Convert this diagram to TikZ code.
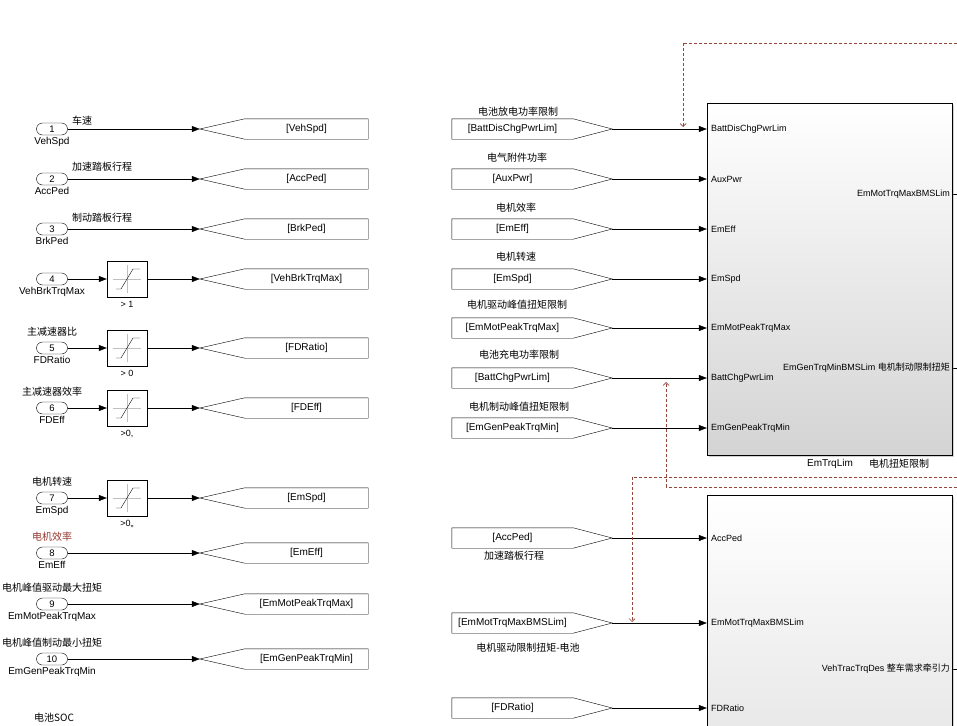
\documentclass[tikz,border=0pt]{standalone}
\usepackage{fontspec}
\setmainfont{Liberation Sans}
\newfontfamily\cjk{Noto Sans CJK SC}
\usepackage{tikz}
\usetikzlibrary{arrows.meta}
\usetikzlibrary{shapes.misc,shadows,positioning}
\pgfdeclarelayer{edgelayer}
\pgfdeclarelayer{nodelayer}
\pgfdeclarelayer{background}
\pgfsetlayers{background,edgelayer,nodelayer,main}
\definecolor{tracecol}{RGB}{150,70,60}
\definecolor{notecol}{RGB}{150,55,45}
\tikzstyle{none}=[inner sep=0mm]
\tikzstyle{lab}=[inner sep=0mm,font=\fontsize{9}{10}\selectfont]
\tikzstyle{portname}=[inner sep=0mm,font=\fontsize{10}{11}\selectfont]
\tikzstyle{zh}=[inner sep=0mm,font=\cjk\fontsize{10}{11}\selectfont]
\tikzstyle{inport}=[draw,rounded rectangle,minimum width=31pt,minimum height=12pt,inner sep=0pt,font=\fontsize{9.5}{10}\selectfont]
\tikzstyle{tag}=[inner sep=0pt,minimum height=20pt,font=\fontsize{10}{11}\selectfont]
\tikzstyle{sat}=[draw,fill=white,minimum width=40pt,minimum height=36pt,inner sep=0pt]
\tikzstyle{sub}=[draw,top color=white,bottom color=black!17,inner sep=0pt,
  drop shadow={shadow xshift=2pt,shadow yshift=-2pt,opacity=0.35}]
\tikzstyle{wire}=[-{Triangle[length=8pt,width=6pt]}]
\tikzstyle{trace}=[draw=tracecol,dashed,dash pattern=on 3pt off 2pt,line width=0.7pt,-{Straight Barb[length=3pt,width=6pt]}]
\tikzstyle{tracestart}=[draw=tracecol,dashed,dash pattern=on 3pt off 2pt,line width=0.7pt]
% goto tag: name, x, y, text
\newcommand{\gototag}[4]{%
	\node[tag,minimum width=123pt] (#1) at (#2,#3) {#4};
	\coordinate (#1tip) at ([xshift=-45pt]#1.west);
	\draw (#1.north west) -- (#1.north east) -- (#1.south east) -- (#1.south west) -- (#1tip) -- cycle;
}
% from tag: name, x, y, text
\newcommand{\fromtag}[4]{%
	\node[tag,minimum width=121pt] (#1) at (#2,#3) {#4};
	\coordinate (#1tip) at ([xshift=39pt]#1.east);
	\draw (#1.north west) -- (#1.north east) -- (#1tip) -- (#1.south east) -- (#1.south west) -- cycle;
}
% saturation: name, x, y, label
\newcommand{\satblk}[4]{%
	\node[sat] (#1) at (#2,#3) {};
	\draw[black!25,line width=0.5pt] ([xshift=-14pt]#1.center) -- ([xshift=14pt]#1.center)
		([yshift=-14pt]#1.center) -- ([yshift=14pt]#1.center);
	\draw ([shift={(-11,10)}]#1.center) -- ([shift={(-6,10)}]#1.center)
		-- ([shift={(6,-10)}]#1.center) -- ([shift={(13,-10)}]#1.center);
	\node[lab,below=4pt of #1] (#1l) {#4};
}

\begin{document}
\begin{tikzpicture}[x=1pt,y=-1pt,line width=1pt]
	\useasboundingbox (0,0) rectangle (957,725);
	\begin{pgfonlayer}{background}
		\fill[white] (0,0) rectangle (957,725);
	\end{pgfonlayer}
	\begin{pgfonlayer}{nodelayer}
		% inports
		\node [style=inport] (in1) at (52,129) {1};
		\node [style=inport] (in2) at (52,179) {2};
		\node [style=inport] (in3) at (52,229) {3};
		\node [style=inport] (in4) at (52,279) {4};
		\node [style=inport] (in5) at (52,348) {5};
		\node [style=inport] (in6) at (52,408) {6};
		\node [style=inport] (in7) at (52,498) {7};
		\node [style=inport] (in8) at (52,553) {8};
		\node [style=inport] (in9) at (52,604) {9};
		\node [style=inport] (in10) at (52,659) {10};
		\node [style=portname,below=2pt of in1] (n1) {VehSpd};
		\node [style=portname,below=2pt of in2] (n2) {AccPed};
		\node [style=portname,below=2pt of in3] (n3) {BrkPed};
		\node [style=portname,below=2pt of in4] (n4) {VehBrkTrqMax};
		\node [style=portname,below=2pt of in5] (n5) {FDRatio};
		\node [style=portname,below=2pt of in6] (n6) {FDEff};
		\node [style=portname,below=2pt of in7] (n7) {EmSpd};
		\node [style=portname,below=2pt of in8] (n8) {EmEff};
		\node [style=portname,below=2pt of in9] (n9) {EmMotPeakTrqMax};
		\node [style=portname,below=2pt of in10] (n10) {EmGenPeakTrqMin};
		% signal names
		\node [style=zh,anchor=south west] (s1) at (72,125) {车速};
		\node [style=zh,anchor=south west] (s2) at (72,172) {加速踏板行程};
		\node [style=zh,anchor=south west] (s3) at (72,223) {制动踏板行程};
		\node [style=zh,above=5pt of in5] (s5) {主减速器比};
		\node [style=zh,above=5pt of in6] (s6) {主减速器效率};
		\node [style=zh,above=5pt of in7] (s7) {电机转速};
		\node [style=zh,above=5pt of in8,text=notecol] (s8) {电机效率};
		\node [style=zh,above=5pt of in9] (s9) {电机峰值驱动最大扭矩};
		\node [style=zh,above=5pt of in10] (s10) {电机峰值制动最小扭矩};
		\node [style=zh] (soc) at (54,718) {电池SOC};
		% saturations
		\satblk{sat4}{127}{279}{> 1}
		\satblk{sat5}{127}{348}{> 0}
		\satblk{sat6}{127}{408}{>0,}
		\satblk{sat7}{127}{498}{>0,,}
		% goto tags
		\gototag{g1}{306.5}{129}{[VehSpd]}
		\gototag{g2}{306.5}{179}{[AccPed]}
		\gototag{g3}{306.5}{229}{[BrkPed]}
		\gototag{g4}{306.5}{279}{[VehBrkTrqMax]}
		\gototag{g5}{306.5}{348}{[FDRatio]}
		\gototag{g6}{306.5}{408}{[FDEff]}
		\gototag{g7}{306.5}{498}{[EmSpd]}
		\gototag{g8}{306.5}{553}{[EmEff]}
		\gototag{g9}{306.5}{604}{[EmMotPeakTrqMax]}
		\gototag{g10}{306.5}{659}{[EmGenPeakTrqMin]}
		% from tags
		\fromtag{f1}{512.5}{129}{[BattDisChgPwrLim]}
		\fromtag{f2}{512.5}{179}{[AuxPwr]}
		\fromtag{f3}{512.5}{229}{[EmEff]}
		\fromtag{f4}{512.5}{279}{[EmSpd]}
		\fromtag{f5}{512.5}{328}{[EmMotPeakTrqMax]}
		\fromtag{f6}{512.5}{378}{[BattChgPwrLim]}
		\fromtag{f7}{512.5}{428}{[EmGenPeakTrqMin]}
		\fromtag{f8}{512.5}{538}{[AccPed]}
		\fromtag{f9}{512.5}{623}{[EmMotTrqMaxBMSLim]}
		\fromtag{f10}{512.5}{708}{[FDRatio]}
		\node [style=zh] (fl1) at (518,112) {电池放电功率限制};
		\node [style=zh] (fl2) at (517,158) {电气附件功率};
		\node [style=zh] (fl3) at (516,208) {电机效率};
		\node [style=zh] (fl4) at (516,257) {电机转速};
		\node [style=zh] (fl5) at (517,305) {电机驱动峰值扭矩限制};
		\node [style=zh] (fl6) at (519,355) {电池充电功率限制};
		\node [style=zh] (fl7) at (519,407) {电机制动峰值扭矩限制};
		\node [style=zh] (fl8) at (514,556) {加速踏板行程};
		\node [style=zh] (fl9) at (528,648) {电机驱动限制扭矩-电池};
		% subsystems
		\node [style=sub,minimum width=245pt,minimum height=352pt] (lim) at (829.5,279) {};
		\node [style=sub,minimum width=245pt,minimum height=450pt] (trq) at (829.5,720) {};
		\node [style=lab,anchor=west] (lim1) at (711,129) {BattDisChgPwrLim};
		\node [style=lab,anchor=west] (lim2) at (711,179) {AuxPwr};
		\node [style=lab,anchor=west] (lim3) at (711,229) {EmEff};
		\node [style=lab,anchor=west] (lim4) at (711,279) {EmSpd};
		\node [style=lab,anchor=west] (lim5) at (711,328) {EmMotPeakTrqMax};
		\node [style=lab,anchor=west] (lim6) at (711,378) {BattChgPwrLim};
		\node [style=lab,anchor=west] (lim7) at (711,428) {EmGenPeakTrqMin};
		\node [style=lab,anchor=east] (limo1) at (950,194) {EmMotTrqMaxBMSLim};
		\node [style=lab,anchor=east] (limo2) at (950,368) {EmGenTrqMinBMSLim {\cjk 电机制动限制扭矩}};
		\node [style=portname] (limname) at (830,464) {EmTrqLim};
		\node [style=zh] (limnote) at (899,464) {电机扭矩限制};
		\node [style=lab,anchor=west] (trq1) at (711,538) {AccPed};
		\node [style=lab,anchor=west] (trq2) at (711,623) {EmMotTrqMaxBMSLim};
		\node [style=lab,anchor=west] (trq3) at (711,708) {FDRatio};
		\node [style=lab,anchor=east] (trqo1) at (950,669) {VehTracTrqDes {\cjk 整车需求牵引力}};
		% free ends
		\coordinate (o1) at (957,194);
		\coordinate (o2) at (957,368);
		\coordinate (o3) at (957,669);
		\coordinate (d1a) at (957,43);
		\coordinate (d1b) at (683,43);
		\coordinate (d1c) at (683,127);
		\coordinate (d2a) at (957,487);
		\coordinate (d2b) at (666,487);
		\coordinate (d2c) at (666,382);
		\coordinate (d3a) at (957,477);
		\coordinate (d3b) at (632,477);
		\coordinate (d3c) at (632,622);
	\end{pgfonlayer}
	\begin{pgfonlayer}{edgelayer}
		\draw[style=wire] (in1.east) -- (g1tip);
		\draw[style=wire] (in2.east) -- (g2tip);
		\draw[style=wire] (in3.east) -- (g3tip);
		\draw[style=wire] (in4.east) -- (sat4.west);
		\draw[style=wire] (sat4.east) -- (g4tip);
		\draw[style=wire] (in5.east) -- (sat5.west);
		\draw[style=wire] (sat5.east) -- (g5tip);
		\draw[style=wire] (in6.east) -- (sat6.west);
		\draw[style=wire] (sat6.east) -- (g6tip);
		\draw[style=wire] (in7.east) -- (sat7.west);
		\draw[style=wire] (sat7.east) -- (g7tip);
		\draw[style=wire] (in8.east) -- (g8tip);
		\draw[style=wire] (in9.east) -- (g9tip);
		\draw[style=wire] (in10.east) -- (g10tip);
		\draw[style=wire] (f1tip) -- (f1tip -| lim.west);
		\draw[style=wire] (f2tip) -- (f2tip -| lim.west);
		\draw[style=wire] (f3tip) -- (f3tip -| lim.west);
		\draw[style=wire] (f4tip) -- (f4tip -| lim.west);
		\draw[style=wire] (f5tip) -- (f5tip -| lim.west);
		\draw[style=wire] (f6tip) -- (f6tip -| lim.west);
		\draw[style=wire] (f7tip) -- (f7tip -| lim.west);
		\draw[style=wire] (f8tip) -- (f8tip -| trq.west);
		\draw[style=wire] (f9tip) -- (f9tip -| trq.west);
		\draw[style=wire] (f10tip) -- (f10tip -| trq.west);
		\draw (lim.east |- limo1) -- (o1);
		\draw (lim.east |- limo2) -- (o2);
		\draw (trq.east |- trqo1) -- (o3);
		\draw[style=tracestart] (d1a) -- (d1b);
		\draw[style=trace] (d1b) -- (d1c);
		\draw[style=tracestart] (d2a) -- (d2b);
		\draw[style=trace] (d2b) -- (d2c);
		\draw[style=tracestart] (d3a) -- (d3b);
		\draw[style=trace] (d3b) -- (d3c);
	\end{pgfonlayer}
\end{tikzpicture}
\end{document}
